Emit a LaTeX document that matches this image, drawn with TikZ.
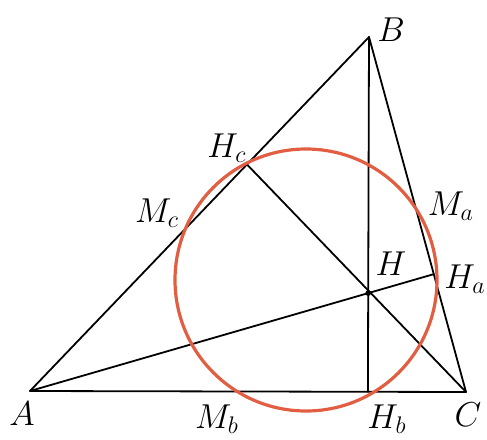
\documentclass[tikz,border=0pt]{standalone}
\usepackage{amsmath,amssymb}
\usetikzlibrary{calc}
\definecolor{ninept}{RGB}{226,94,66}

\begin{document}
\begin{tikzpicture}[x=0.5pt,y=-0.5pt,
  line cap=round,
  line join=round,
  every node/.style={font=\LARGE}]

  \useasboundingbox (0,0) rectangle (487,439);

  % 三角形の頂点
  \coordinate (A) at ( 30,391);
  \coordinate (B) at (369, 37);
  \coordinate (C) at (466,392);

  % 垂線の足
  \coordinate (Ha) at ($(B)!0.668!(C)$);
  \coordinate (Hb) at ($(A)!0.775!(C)$);
  \coordinate (Hc) at ($(A)!0.64!(B)$);

  % 垂心
  \coordinate (H) at (intersection of B--Hb and A--Ha);

  % 三角形
  \draw[line width=0.9pt] (A)--(B)--(C)--cycle;

  % 垂線
  \draw[line width=0.9pt] (B)--(Hb);
  \draw[line width=0.9pt] (A)--(Ha);
  \draw[line width=0.9pt] (C)--(Hc);

  % 九点円
  \draw[ninept,line width=1.6pt] (306,280) circle[radius=131];

  % 点
  \fill (H) circle(1.4pt);

  \node (lA)  at ( 22,414) {$A$};
  \node (lB)  at (391, 30) {$B$};
  \node (lC)  at (468,415) {$C$};
  \node (lH)  at (391,264) {$H$};
  \node (lHa) at (465,279) {$H_a$};
  \node (lHb) at (387,419) {$H_b$};
  \node (lHc) at (227,148) {$H_c$};
  \node (lMa) at (451,206) {$M_a$};
  \node (lMb) at (217,419) {$M_b$};
  \node (lMc) at (157,213) {$M_c$};

\end{tikzpicture}
\end{document}
